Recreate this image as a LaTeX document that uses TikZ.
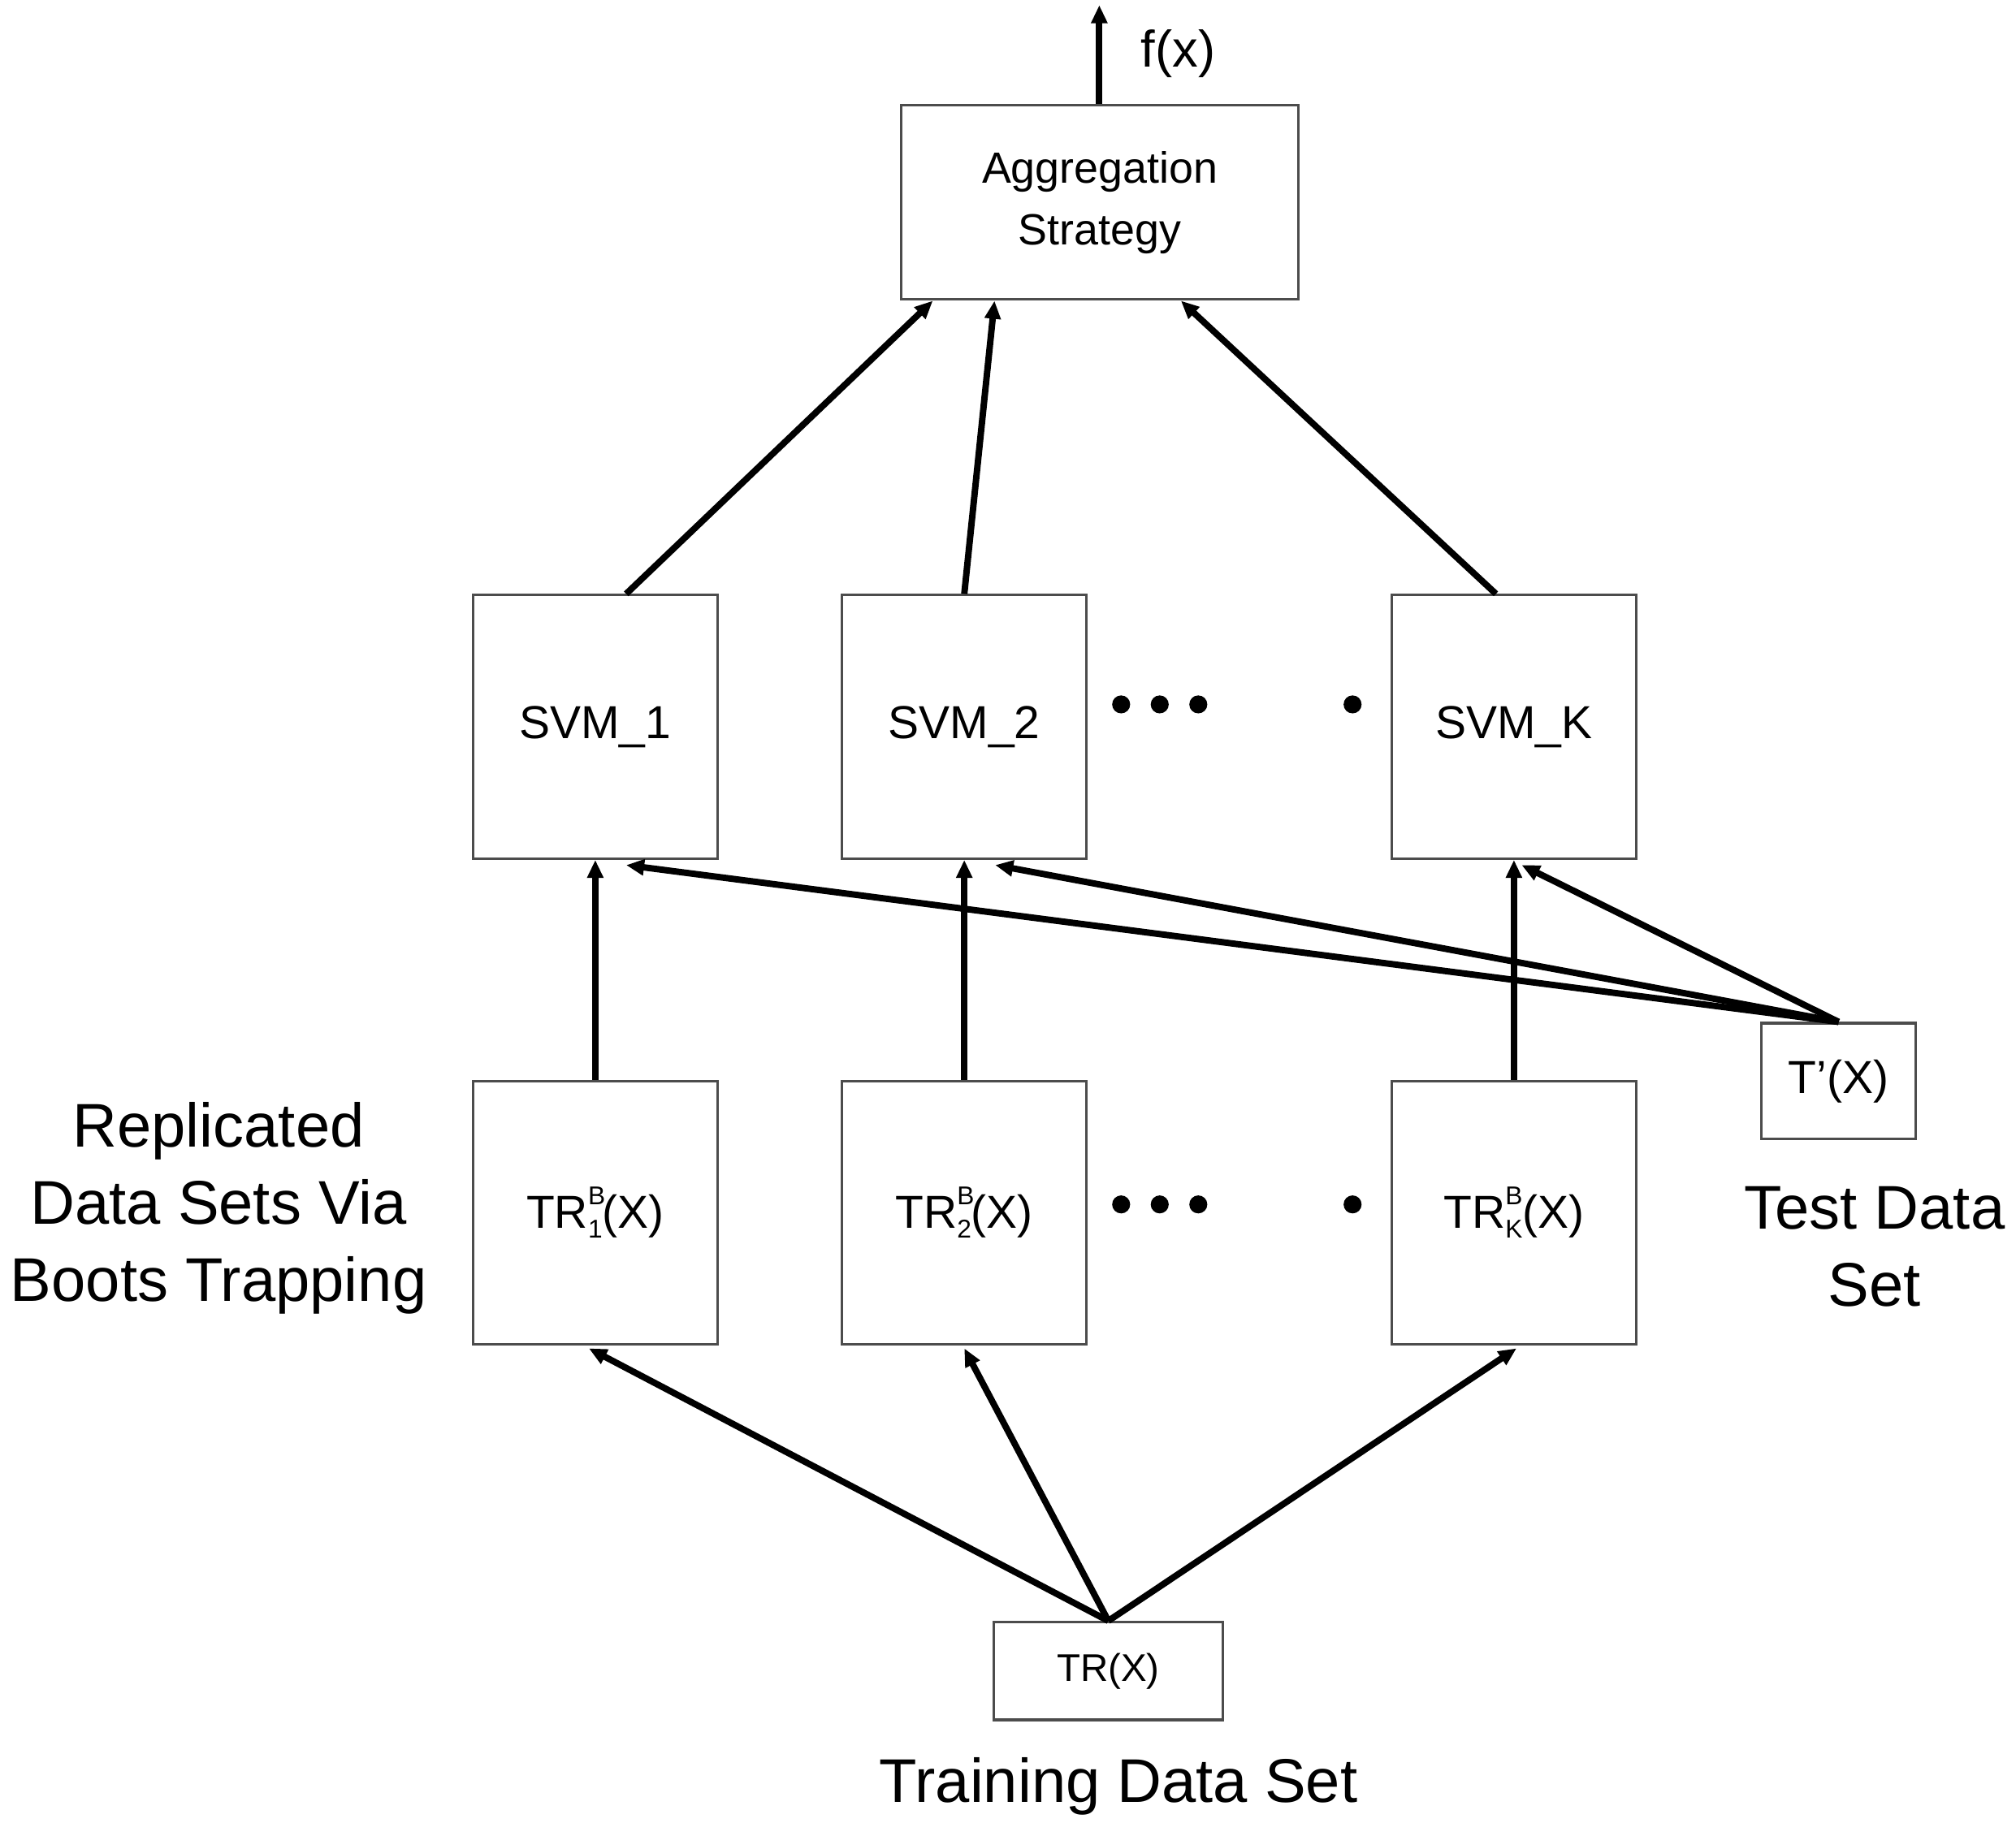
\documentclass[tikz,border=0pt]{standalone}
\usepackage{fontspec}
\setmainfont{Liberation Sans}
\usetikzlibrary{arrows.meta}
\newcommand{\trb}[1]{TR\makebox[0pt][l]{\raisebox{18pt}{\fontsize{20}{22}\selectfont B}}\raisebox{-8pt}{\fontsize{20}{22}\selectfont #1}(X)}
\begin{document}
\begin{tikzpicture}[x=1pt,y=1pt,yscale=-1,
  box/.style={draw=black!70,line width=2,minimum width=190,minimum height=205,inner sep=0,font=\fontsize{36}{40}\selectfont},
  lbl/.style={align=center,font=\fontsize{48}{60}\selectfont},
  dot/.style={fill=black,circle,inner sep=0,minimum size=14},
  link/.style={line width=5,-{Triangle[length=14,width=12]}}]
\useasboundingbox (0,0) rectangle (1568,1428);
%boxes
\node [box,minimum width=309,minimum height=151,align=center,font=\fontsize{34}{48}\selectfont] (agg) at (855.5,157.5) {Aggregation\\Strategy};
\node [box] (svm1) at (463,565.5) {SVM\_1};
\node [box] (svm2) at (750,565.5) {SVM\_2};
\node [box] (svmk) at (1177.5,565.5) {SVM\_K};
\node [box] (tr1) at (463,943.5) {\trb{1}};
\node [box] (tr2) at (750,943.5) {\trb{2}};
\node [box] (trk) at (1177.5,943.5) {\trb{K}};
\node [box,minimum width=120,minimum height=90] (test) at (1430,841) {T'(X)};
\node [box,minimum width=178,minimum height=76,font=\fontsize{30}{34}\selectfont] (tr) at (862,1300) {TR(X)};
%dots
\foreach \y in {548,937}
  \foreach \x in {872,902,932,1052}
    \node [dot] at (\x,\y) {};
%labels
\coordinate (out) at (855,4);
\node [lbl,anchor=west,font=\fontsize{40}{48}\selectfont] (fx) at (884,42) {f(x)};
\node [lbl] (rep) at (170,940) {Replicated\\Data Sets Via\\Boots Trapping};
\node [lbl] (tds) at (1458,970) {Test Data\\Set};
\node [lbl] (trds) at (870,1390) {Training Data Set};
%arrows
\draw [link] (agg.north -| out) -- (out);
\draw [link] ([xshift=24]svm1.north) -- ([xshift=-130]agg.south);
\draw [link] ([xshift=0]svm2.north) -- ([xshift=-82]agg.south);
\draw [link] ([xshift=-14]svmk.north) -- ([xshift=63]agg.south);
\foreach \a/\b in {tr1/svm1,tr2/svm2,trk/svmk}
  \draw [link] (\a.north) -- (\b.south);
\draw [link] (test.north) -- ([xshift=24,yshift=4]svm1.south);
\draw [link] (test.north) -- ([xshift=24,yshift=4]svm2.south);
\draw [link] (test.north) -- ([xshift=6,yshift=4]svmk.south);
\draw [link] (tr.north) -- ([xshift=-5,yshift=2]tr1.south);
\draw [link] (tr.north) -- ([yshift=2]tr2.south);
\draw [link] (tr.north) -- ([xshift=2,yshift=2]trk.south);
\end{tikzpicture}
\end{document}
